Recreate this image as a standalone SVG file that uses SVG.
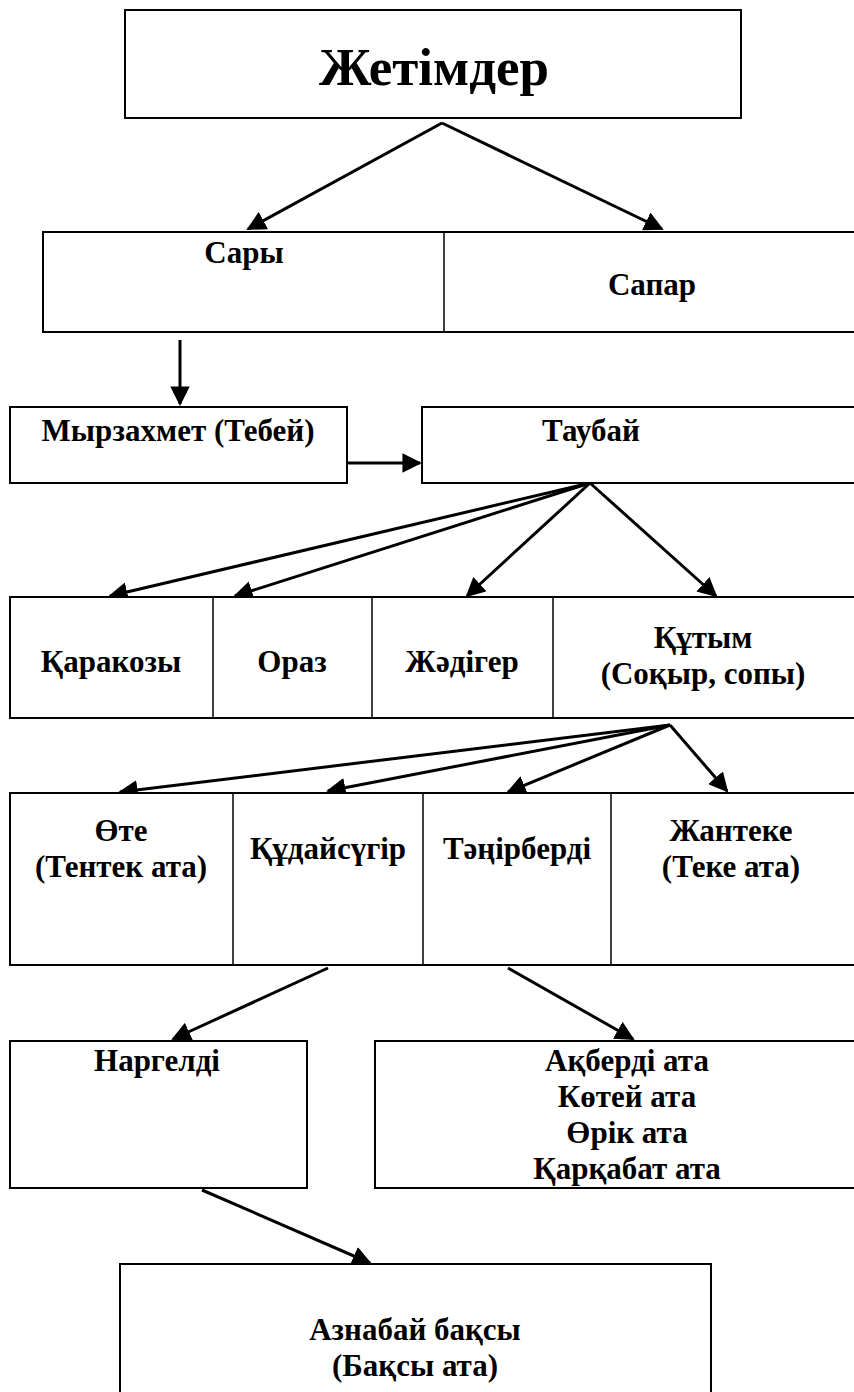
<svg xmlns="http://www.w3.org/2000/svg" width="854" height="1392" viewBox="0 0 854 1392">
<style>
.box{fill:#fff;stroke:#000;stroke-width:2}
.div{stroke:#000;stroke-width:1.5}
.t{font-weight:bold;font-size:31px;text-anchor:middle;fill:#000}
.big{font-size:53px}
.c{stroke:#000;stroke-width:3;fill:none;marker-end:url(#ah)}
</style>
<defs>
<marker id="ah" viewBox="0 0 10 10" refX="9" refY="5" markerWidth="6.5" markerHeight="6.5" markerUnits="strokeWidth" orient="auto">
<path d="M0,0 L10,5 L0,10 z" fill="#000"/>
</marker>
</defs>
<rect width="854" height="1392" fill="#fff"/>
<g id="connectors">
<line class="c" x1="442" y1="123" x2="248" y2="229"/>
<line class="c" x1="442" y1="123" x2="662" y2="229"/>
<line class="c" x1="180" y1="340" x2="180" y2="404"/>
<line class="c" x1="347" y1="463" x2="420" y2="463"/>
<line class="c" x1="590" y1="483" x2="110" y2="596"/>
<line class="c" x1="590" y1="483" x2="235" y2="596"/>
<line class="c" x1="590" y1="483" x2="467" y2="596"/>
<line class="c" x1="590" y1="483" x2="716" y2="596"/>
<line class="c" x1="670" y1="725" x2="120" y2="792"/>
<line class="c" x1="670" y1="725" x2="328" y2="791"/>
<line class="c" x1="670" y1="725" x2="508" y2="792"/>
<line class="c" x1="670" y1="725" x2="727" y2="791"/>
<line class="c" x1="328" y1="968" x2="173" y2="1039"/>
<line class="c" x1="508" y1="968" x2="633" y2="1039"/>
<line class="c" x1="202" y1="1190" x2="370" y2="1263"/>
</g>
<g font-family="'Liberation Serif', 'DejaVu Serif', serif">
<g id="n-zhetimder">
<rect class="box" x="125" y="10" width="616" height="108"/>
<text class="t big" x="434" y="85">Жетімдер</text>
</g>
<g id="n-sary-sapar">
<rect class="box" x="43" y="232" width="820" height="100"/>
<line class="div" x1="444" y1="232" x2="444" y2="332"/>
<text class="t" x="244" y="263">Сары</text>
<text class="t" x="652" y="295">Сапар</text>
</g>
<g id="n-myrzakhmet">
<rect class="box" x="10" y="407" width="337" height="76"/>
<text class="t" x="178" y="441">Мырзахмет (Тебей)</text>
</g>
<g id="n-taubai">
<rect class="box" x="422" y="407" width="441" height="76"/>
<text class="t" x="591" y="441">Таубай</text>
</g>
<g id="n-row4">
<rect class="box" x="10" y="597" width="853" height="121"/>
<line class="div" x1="213" y1="597" x2="213" y2="718"/>
<line class="div" x1="372" y1="597" x2="372" y2="718"/>
<line class="div" x1="553" y1="597" x2="553" y2="718"/>
<text class="t" x="111" y="672">Қаракозы</text>
<text class="t" x="292" y="672">Ораз</text>
<text class="t" x="462" y="672">Жәдігер</text>
<text class="t" x="703" y="648">Құтым</text>
<text class="t" x="703" y="684">(Соқыр, сопы)</text>
</g>
<g id="n-row5">
<rect class="box" x="10" y="793" width="853" height="172"/>
<line class="div" x1="233" y1="793" x2="233" y2="965"/>
<line class="div" x1="423" y1="793" x2="423" y2="965"/>
<line class="div" x1="611" y1="793" x2="611" y2="965"/>
<text class="t" x="121" y="841">Өте</text>
<text class="t" x="121" y="877">(Тентек ата)</text>
<text class="t" x="328" y="859">Құдайсүгір</text>
<text class="t" x="517" y="859">Тәңірберді</text>
<text class="t" x="731" y="841">Жантеке</text>
<text class="t" x="731" y="877">(Теке ата)</text>
</g>
<g id="n-nargeldi">
<rect class="box" x="10" y="1041" width="297" height="147"/>
<text class="t" x="157" y="1071">Наргелді</text>
</g>
<g id="n-akberdi">
<rect class="box" x="375" y="1041" width="488" height="147"/>
<text class="t" x="627" y="1071">Ақберді ата</text>
<text class="t" x="627" y="1107">Көтей ата</text>
<text class="t" x="627" y="1143">Өрік ата</text>
<text class="t" x="627" y="1179">Қарқабат ата</text>
</g>
<g id="n-aznabai">
<rect class="box" x="120" y="1264" width="591" height="140"/>
<text class="t" x="415" y="1340">Азнабай бақсы</text>
<text class="t" x="415" y="1376">(Бақсы ата)</text>
</g>
</g>
</svg>
